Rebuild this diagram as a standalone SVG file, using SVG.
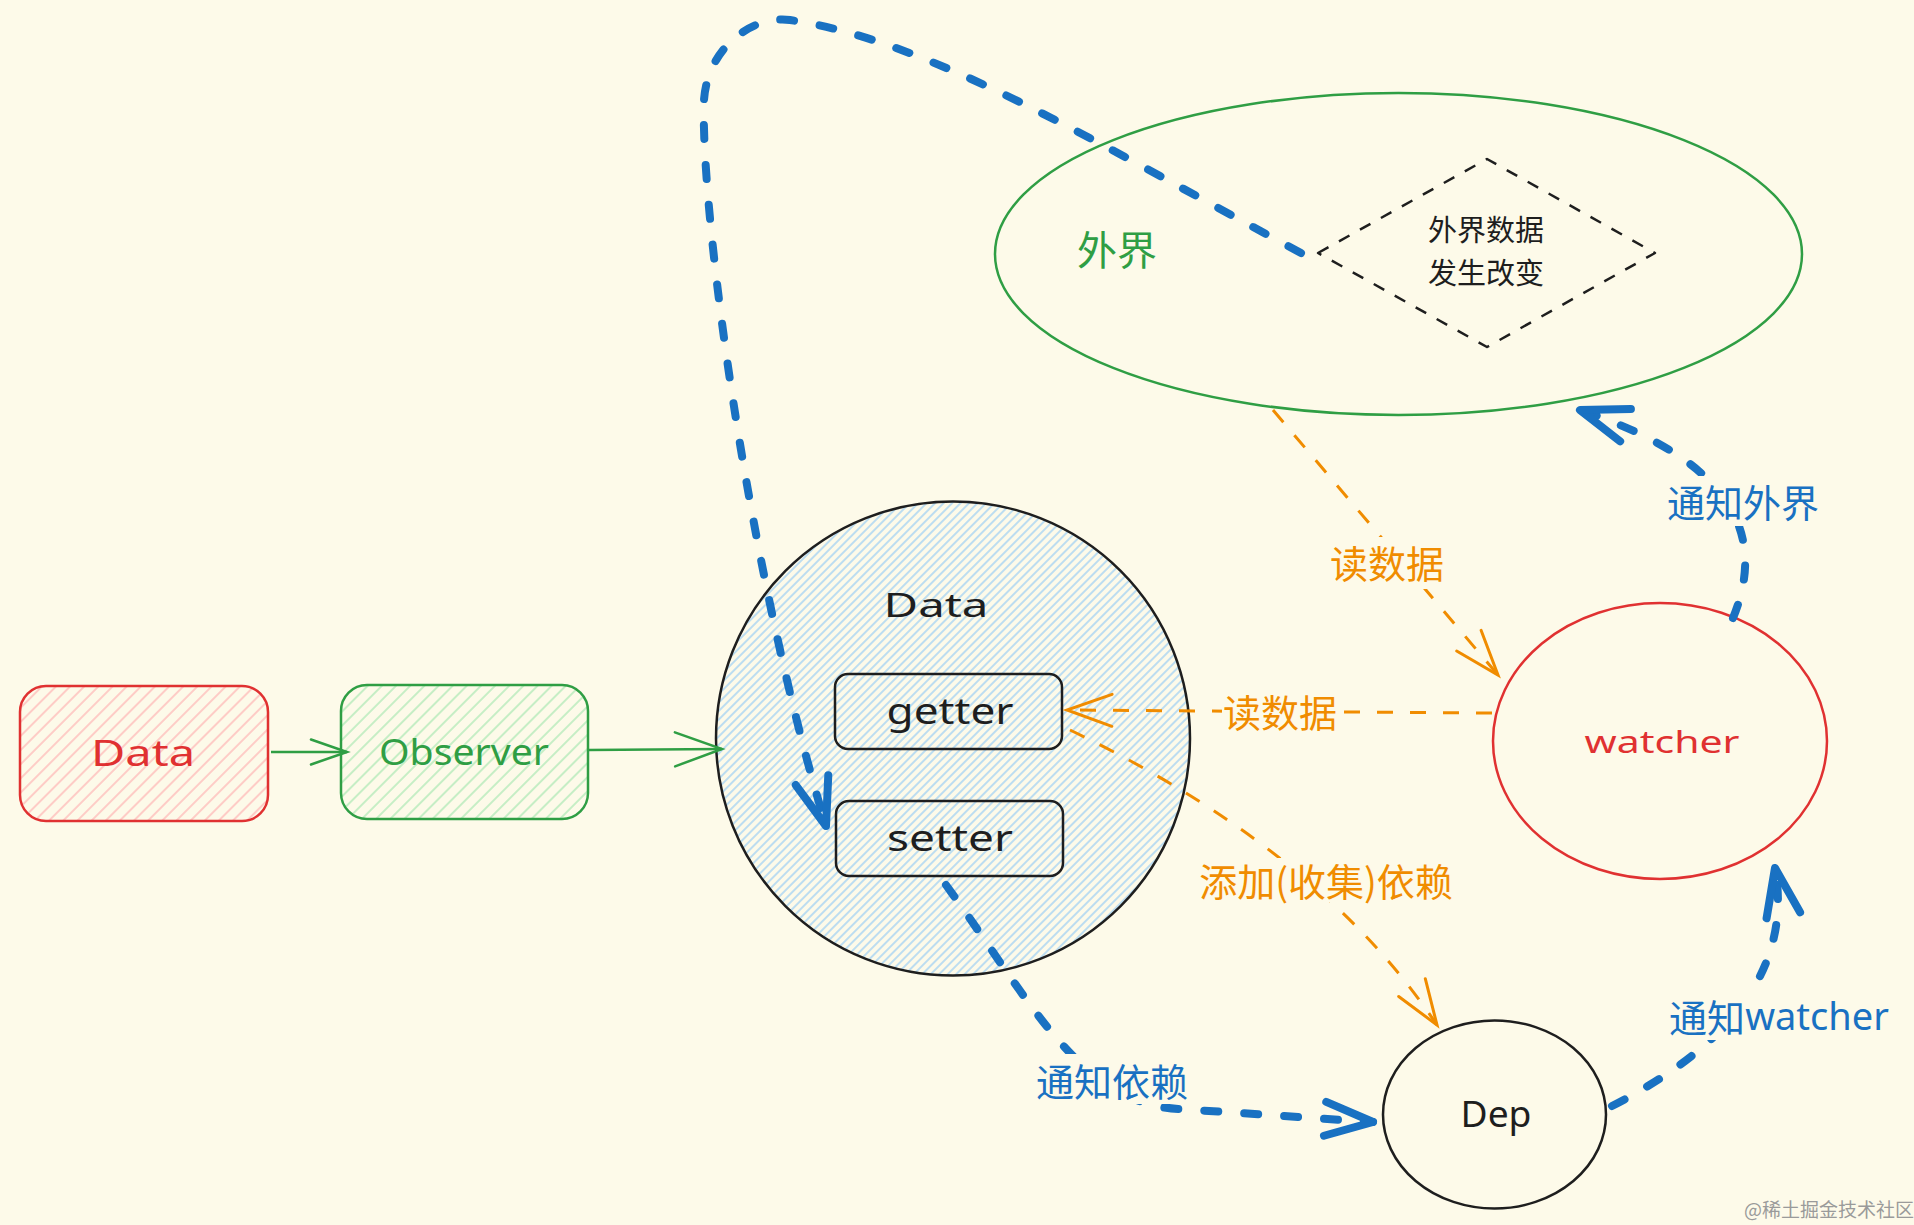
<svg xmlns="http://www.w3.org/2000/svg" width="1914" height="1225" viewBox="0 0 1914 1225">
<style>
.lat{font-family:"Noto Sans","DejaVu Sans",sans-serif;text-anchor:middle;dominant-baseline:central}
.cjk{font-family:"Noto Sans CJK SC","Noto Sans",sans-serif;text-anchor:middle;dominant-baseline:central}
.blue{stroke:#1971c2;stroke-width:8;fill:none;stroke-linecap:round;stroke-dasharray:14 26}
.orange{stroke:#f08c00;stroke-width:3;fill:none;stroke-dasharray:16 17}
.green{stroke:#2f9e44;stroke-width:2.5;fill:none}
.bg{fill:#fdfae9}
</style>
<defs>
<pattern id="hRed" width="10" height="10" patternUnits="userSpaceOnUse" patternTransform="rotate(45)"><line x1="5" y1="0" x2="5" y2="10" stroke="#ffb3b3" stroke-width="1.3"/></pattern>
<pattern id="hGreen" width="10" height="10" patternUnits="userSpaceOnUse" patternTransform="rotate(45)"><line x1="5" y1="0" x2="5" y2="10" stroke="#a9e8b2" stroke-width="1.3"/></pattern>
<pattern id="hBlue" width="6" height="6" patternUnits="userSpaceOnUse" patternTransform="rotate(45)"><line x1="3" y1="0" x2="3" y2="6" stroke="#99cdf5" stroke-width="1.3"/></pattern>
<marker id="mBlue" markerUnits="userSpaceOnUse" markerWidth="1" markerHeight="1" refX="0" refY="0" orient="auto" overflow="visible"><path d="M-48,-17 L0,0 L-48,17" fill="none" stroke="#1971c2" stroke-width="8" stroke-linecap="round" stroke-linejoin="round"/></marker>
<marker id="mOrange" markerUnits="userSpaceOnUse" markerWidth="1" markerHeight="1" refX="0" refY="0" orient="auto" overflow="visible"><path d="M-45,-16 L0,0 L-45,16" fill="none" stroke="#f08c00" stroke-width="3" stroke-linecap="round"/></marker>
<marker id="mGreenS" markerUnits="userSpaceOnUse" markerWidth="1" markerHeight="1" refX="0" refY="0" orient="auto" overflow="visible"><path d="M-36,-12.5 L0,0 L-36,12.5" fill="none" stroke="#2f9e44" stroke-width="2.5" stroke-linecap="round"/></marker>
<marker id="mGreenL" markerUnits="userSpaceOnUse" markerWidth="1" markerHeight="1" refX="0" refY="0" orient="auto" overflow="visible"><path d="M-47,-17 L0,0 L-47,17" fill="none" stroke="#2f9e44" stroke-width="2.5" stroke-linecap="round"/></marker>
</defs>
<rect x="0" y="0" width="1914" height="1225" fill="#fdfae9"/>

<g id="node-outside">
<ellipse cx="1398.5" cy="254" rx="403.5" ry="161" fill="none" stroke="#2f9e44" stroke-width="2.5"/>
<text class="cjk" x="1117" y="248" font-size="40" fill="#2f9e44">外界</text>
</g>
<g id="node-change">
<path d="M1318,253 L1487,159 L1655,253 L1487,347 Z" fill="none" stroke="#1e1e1e" stroke-width="2.5" stroke-dasharray="12 12" stroke-linejoin="round"/>
<text class="cjk" x="1486" y="228" font-size="29" fill="#1e1e1e">外界数据</text>
<text class="cjk" x="1486" y="271" font-size="29" fill="#1e1e1e">发生改变</text>
</g>
<g id="node-data">
<rect x="20" y="686" width="248" height="135" rx="26" fill="url(#hRed)" stroke="#e03131" stroke-width="2.5"/>
<text class="lat" x="143" y="752" font-size="36" fill="#e03131" textLength="104" lengthAdjust="spacingAndGlyphs">Data</text>
</g>
<g id="node-observer">
<rect x="341" y="685" width="247" height="134" rx="26" fill="url(#hGreen)" stroke="#2f9e44" stroke-width="2.5"/>
<text class="lat" x="464" y="751" font-size="36" fill="#2f9e44" textLength="170" lengthAdjust="spacingAndGlyphs">Observer</text>
</g>
<g id="node-datacircle">
<circle cx="953" cy="738.5" r="237" fill="url(#hBlue)" stroke="#1e1e1e" stroke-width="2.5"/>
<text class="lat" x="936" y="604" font-size="32" fill="#1e1e1e" textLength="105" lengthAdjust="spacingAndGlyphs">Data</text>
</g>
<g id="node-getter">
<rect x="835" y="674" width="227" height="75" rx="13" fill="none" stroke="#1e1e1e" stroke-width="2.5"/>
<text class="lat" x="950" y="710" font-size="36" fill="#1e1e1e" textLength="127" lengthAdjust="spacingAndGlyphs">getter</text>
</g>
<g id="node-setter">
<rect x="836" y="801" width="227" height="75" rx="13" fill="none" stroke="#1e1e1e" stroke-width="2.5"/>
<text class="lat" x="950" y="837" font-size="36" fill="#1e1e1e" textLength="126" lengthAdjust="spacingAndGlyphs">setter</text>
</g>
<g id="node-watcher">
<ellipse cx="1660" cy="741" rx="167" ry="138" fill="none" stroke="#e03131" stroke-width="2.5"/>
<text class="lat" x="1662" y="741" font-size="30" fill="#e03131" textLength="155" lengthAdjust="spacingAndGlyphs">watcher</text>
</g>
<g id="node-dep">
<ellipse cx="1494.5" cy="1114.5" rx="111.5" ry="94" fill="none" stroke="#1e1e1e" stroke-width="2.5"/>
<text class="lat" x="1496" y="1113" font-size="36" fill="#1e1e1e" textLength="71" lengthAdjust="spacingAndGlyphs">Dep</text>
</g>

<g id="connectors">
<path class="green" d="M271,752 L347,752" marker-end="url(#mGreenS)"/>
<path class="green" d="M588,750 L722,749" marker-end="url(#mGreenL)"/>
<path class="blue" d="M1301,253 C1100,145 930,40 790,20 C755,15 708,45 704,100 C700,200 745,560 826,826" marker-end="url(#mBlue)"/>
<path class="blue" d="M946,885 C1030,1000 1080,1105 1180,1109 L1373,1122" marker-end="url(#mBlue)"/>
<path class="blue" d="M1612,1106 Q1800,1010 1775,868" marker-end="url(#mBlue)"/>
<path class="blue" d="M1733,618 Q1790,480 1580,410" marker-end="url(#mBlue)"/>
<path class="orange" d="M1273,410 L1498,675" marker-end="url(#mOrange)"/>
<path class="orange" d="M1492,713 L1067,710" marker-end="url(#mOrange)"/>
<path class="orange" d="M1070,730 Q1320,850 1437,1025" marker-end="url(#mOrange)"/>
</g>

<g id="connector-labels">
<rect class="bg" x="1322" y="537" width="129" height="52"/>
<text class="cjk" x="1387" y="561" font-size="38" fill="#f08c00">读数据</text>
<rect class="bg" x="1222" y="690" width="116" height="40"/>
<text class="cjk" x="1280" y="710" font-size="38" fill="#f08c00">读数据</text>
<rect class="bg" x="1188" y="858" width="276" height="44"/>
<text class="cjk" x="1326" y="879" font-size="38" fill="#f08c00">添加(收集)依赖</text>
<rect class="bg" x="1660" y="476" width="166" height="50"/>
<text class="cjk" x="1743" y="500" font-size="38" fill="#1971c2">通知外界</text>
<rect class="bg" x="1658" y="990" width="242" height="50"/>
<text class="cjk" x="1779" y="1015" font-size="38" fill="#1971c2">通知<tspan font-family="Noto Sans, DejaVu Sans, sans-serif">watcher</tspan></text>
<rect class="bg" x="1028" y="1054" width="166" height="50"/>
<text class="cjk" x="1112" y="1079" font-size="38" fill="#1971c2">通知依赖</text>
</g>

<text class="cjk" x="1829" y="1208" font-size="19" fill="#9a9a9a">@稀土掘金技术社区</text>
</svg>
